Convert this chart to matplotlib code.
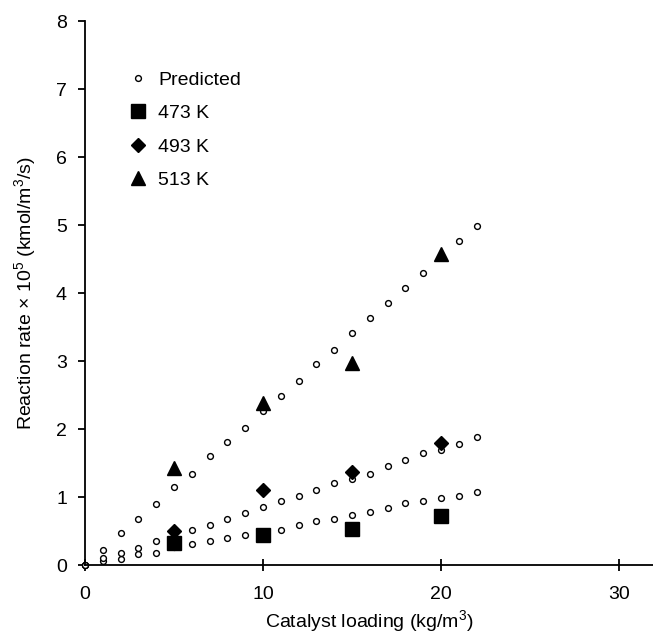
import matplotlib
matplotlib.use("Agg")
import matplotlib.pyplot as plt

plt.rcParams['font.family'] = ['Liberation Sans', 'DejaVu Sans']
plt.rcParams['mathtext.fontset'] = 'custom'
plt.rcParams['mathtext.rm'] = 'Liberation Sans'
plt.rcParams['mathtext.it'] = 'Liberation Sans:italic'

# Data
loading_pred = list(range(0, 23))
pred_473 = [0, 0.06, 0.09, 0.16, 0.18, 0.27, 0.31, 0.36, 0.40, 0.44, 0.47, 0.52,
            0.59, 0.64, 0.68, 0.735, 0.775, 0.84, 0.91, 0.94, 0.985, 1.01, 1.08]
pred_493 = [0, 0.10, 0.17, 0.25, 0.35, 0.43, 0.51, 0.59, 0.68, 0.77, 0.86, 0.94,
            1.02, 1.10, 1.20, 1.26, 1.34, 1.45, 1.54, 1.64, 1.69, 1.78, 1.88]
pred_513 = [0, 0.22, 0.475, 0.68, 0.90, 1.14, 1.34, 1.60, 1.81, 2.02, 2.26, 2.49,
            2.71, 2.95, 3.16, 3.41, 3.63, 3.85, 4.08, 4.30, 4.55, 4.76, 4.98]

loading_exp = [5, 10, 15, 20]
exp_473 = [0.32, 0.44, 0.53, 0.72]
exp_493 = [0.50, 1.10, 1.37, 1.80]
exp_513 = [1.42, 2.38, 2.97, 4.58]

labels = ['Predicted', '473 K', '493 K', '513 K']

FS = 14

fig = plt.figure(figsize=(6.53, 6.35), dpi=100)
ax = fig.add_axes([85/653, 70/635, 1 - 85/653, (565-21)/635])

pkw = dict(linestyle='none', marker='o', markersize=4.2, markerfacecolor='white',
           markeredgecolor='black', markeredgewidth=1.0, clip_on=False)
h0, = ax.plot(loading_pred, pred_473, **pkw)
ax.plot(loading_pred, pred_493, **pkw)
ax.plot(loading_pred, pred_513, **pkw)

h1, = ax.plot(loading_exp, exp_473, linestyle='none', marker='s', markersize=10,
              color='black')
h2, = ax.plot(loading_exp, exp_493, linestyle='none', marker='D', markersize=7.5,
              color='black')
h3, = ax.plot(loading_exp, exp_513, linestyle='none', marker='^', markersize=10.5,
              color='black')

ax.set_xlim(0, (653-85)/17.8)
ax.set_ylim(0, 8)
ax.set_xticks([0, 10, 20, 30])
ax.set_yticks(range(0, 9))
ax.spines['top'].set_visible(False)
ax.spines['right'].set_visible(False)
for s in ['left', 'bottom']:
    ax.spines[s].set_linewidth(1.3)
ax.tick_params(axis='y', direction='out', length=5, width=1.3, labelsize=FS, pad=8)
ax.tick_params(axis='x', direction='inout', length=8, width=1.3, labelsize=FS, pad=11)

ax.set_xlabel(r'Catalyst loading (kg/m$^3$)', fontsize=FS)
ax.xaxis.set_label_coords(0.5, -0.079)
ax.set_ylabel(r'Reaction rate $\times$ 10$^5$ (kmol/m$^3$/s)', fontsize=FS)
ax.yaxis.set_label_coords(-0.0825, 0.5)

leg = ax.legend([h0, h1, h2, h3], labels, loc='upper left', frameon=False,
                bbox_to_anchor=(128.3/653, 1 - 71/635), bbox_transform=fig.transFigure,
                fontsize=FS, handlelength=1.0, handletextpad=0.53, labelspacing=0.82,
                borderpad=0, borderaxespad=0)

fig.savefig('out.png', dpi=100)
